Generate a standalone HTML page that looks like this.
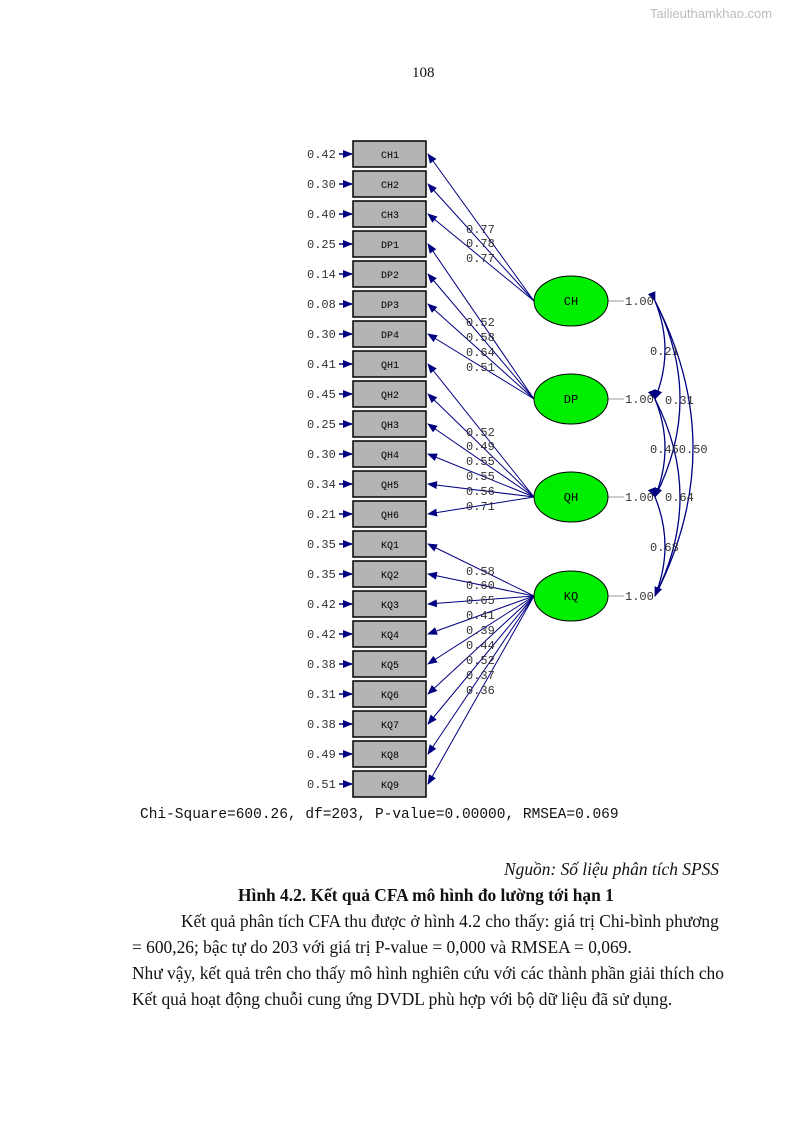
<!DOCTYPE html>
<html><head><meta charset="utf-8"><style>
body{margin:0;background:#fff;width:795px;height:1123px;position:relative;overflow:hidden;font-family:"Liberation Serif",serif;}
.t{position:absolute;font-size:17.4px;color:#111;white-space:nowrap}
</style></head><body>
<div class="t" style="left:650px;top:6px;font-family:'Liberation Sans',sans-serif;font-size:13px;color:#bbb">Tailieuthamkhao.com</div>
<div class="t" style="left:412px;top:65px;font-size:15px">108</div>
<svg width="795" height="1123" style="position:absolute;left:0;top:0">
<defs><marker id="a" markerWidth="10" markerHeight="8" refX="9" refY="4" orient="auto" markerUnits="userSpaceOnUse"><path d="M0,0L10,4L0,8z" fill="#000080"/></marker></defs>
<g font-family="Liberation Mono,monospace" font-size="12" fill="#333">
<g stroke="#000080" stroke-width="1" fill="none" marker-end="url(#a)">
<line x1="534" y1="301" x2="428" y2="154"/><line x1="534" y1="301" x2="428" y2="184"/><line x1="534" y1="301" x2="428" y2="214"/>
<line x1="534" y1="399" x2="428" y2="244"/><line x1="534" y1="399" x2="428" y2="274"/><line x1="534" y1="399" x2="428" y2="304"/><line x1="534" y1="399" x2="428" y2="334"/>
<line x1="534" y1="497" x2="428" y2="364"/><line x1="534" y1="497" x2="428" y2="394"/><line x1="534" y1="497" x2="428" y2="424"/><line x1="534" y1="497" x2="428" y2="454"/><line x1="534" y1="497" x2="428" y2="484"/><line x1="534" y1="497" x2="428" y2="514"/>
<line x1="534" y1="596" x2="428" y2="544"/><line x1="534" y1="596" x2="428" y2="574"/><line x1="534" y1="596" x2="428" y2="604"/><line x1="534" y1="596" x2="428" y2="634"/><line x1="534" y1="596" x2="428" y2="664"/><line x1="534" y1="596" x2="428" y2="694"/><line x1="534" y1="596" x2="428" y2="724"/><line x1="534" y1="596" x2="428" y2="754"/><line x1="534" y1="596" x2="428" y2="784"/>
</g>
<g stroke="#000080" stroke-width="1.3" fill="none">
<path d="M655,301 Q675,350 655,399" marker-start="url(#a)" marker-end="url(#a)"/>
<path d="M655,399 Q675,448 655,497" marker-start="url(#a)" marker-end="url(#a)"/>
<path d="M655,497 Q675,546 655,596" marker-start="url(#a)" marker-end="url(#a)"/>
<path d="M655,301 Q705,399 655,497"/>
<path d="M655,399 Q705,497 655,596"/>
<path d="M655,301 Q731,448 655,596"/>
</g>
<g stroke="#999" stroke-width="1"><line x1="608" y1="301" x2="624" y2="301"/><line x1="608" y1="399" x2="624" y2="399"/><line x1="608" y1="497" x2="624" y2="497"/><line x1="608" y1="596" x2="624" y2="596"/></g>
<g fill="#00ee00" stroke="#000" stroke-width="1">
<ellipse cx="571" cy="301" rx="37" ry="25"/><ellipse cx="571" cy="399" rx="37" ry="25"/><ellipse cx="571" cy="497" rx="37" ry="25"/><ellipse cx="571" cy="596" rx="37" ry="25"/>
</g>
<g fill="#000" font-size="12" text-anchor="middle"><text x="571" y="305">CH</text><text x="571" y="403">DP</text><text x="571" y="501">QH</text><text x="571" y="600">KQ</text></g>
<g><text x="625" y="305">1.00</text><text x="625" y="403">1.00</text><text x="625" y="501">1.00</text><text x="625" y="600">1.00</text>
<text x="650" y="355">0.21</text><text x="665" y="404">0.31</text><text x="650" y="453">0.450.50</text><text x="665" y="501">0.64</text><text x="650" y="551">0.68</text></g>
<g>
<text x="466" y="233">0.77</text><text x="466" y="247">0.78</text><text x="466" y="262">0.77</text>
<text x="466" y="326">0.52</text><text x="466" y="341">0.58</text><text x="466" y="356">0.64</text><text x="466" y="371">0.51</text>
<text x="466" y="436">0.52</text><text x="466" y="450">0.49</text><text x="466" y="465">0.55</text><text x="466" y="480">0.55</text><text x="466" y="495">0.56</text><text x="466" y="510">0.71</text>
<text x="466" y="575">0.58</text><text x="466" y="589">0.60</text><text x="466" y="604">0.65</text><text x="466" y="619">0.41</text><text x="466" y="634">0.39</text><text x="466" y="649">0.44</text><text x="466" y="664">0.52</text><text x="466" y="679">0.37</text><text x="466" y="694">0.36</text>
</g>
<g fill="#b4b4b4" stroke="#000" stroke-width="1.5">
<rect x="353" y="141" width="73" height="26"/><rect x="353" y="171" width="73" height="26"/><rect x="353" y="201" width="73" height="26"/><rect x="353" y="231" width="73" height="26"/><rect x="353" y="261" width="73" height="26"/><rect x="353" y="291" width="73" height="26"/><rect x="353" y="321" width="73" height="26"/><rect x="353" y="351" width="73" height="26"/><rect x="353" y="381" width="73" height="26"/><rect x="353" y="411" width="73" height="26"/><rect x="353" y="441" width="73" height="26"/><rect x="353" y="471" width="73" height="26"/><rect x="353" y="501" width="73" height="26"/><rect x="353" y="531" width="73" height="26"/><rect x="353" y="561" width="73" height="26"/><rect x="353" y="591" width="73" height="26"/><rect x="353" y="621" width="73" height="26"/><rect x="353" y="651" width="73" height="26"/><rect x="353" y="681" width="73" height="26"/><rect x="353" y="711" width="73" height="26"/><rect x="353" y="741" width="73" height="26"/><rect x="353" y="771" width="73" height="26"/>
</g>
<g fill="#000" font-size="10" text-anchor="middle">
<text x="390" y="158">CH1</text><text x="390" y="188">CH2</text><text x="390" y="218">CH3</text><text x="390" y="248">DP1</text><text x="390" y="278">DP2</text><text x="390" y="308">DP3</text><text x="390" y="338">DP4</text><text x="390" y="368">QH1</text><text x="390" y="398">QH2</text><text x="390" y="428">QH3</text><text x="390" y="458">QH4</text><text x="390" y="488">QH5</text><text x="390" y="518">QH6</text><text x="390" y="548">KQ1</text><text x="390" y="578">KQ2</text><text x="390" y="608">KQ3</text><text x="390" y="638">KQ4</text><text x="390" y="668">KQ5</text><text x="390" y="698">KQ6</text><text x="390" y="728">KQ7</text><text x="390" y="758">KQ8</text><text x="390" y="788">KQ9</text>
</g>
<g stroke="#000080" stroke-width="1.5" marker-end="url(#a)">
<line x1="339" y1="154" x2="352" y2="154"/><line x1="339" y1="184" x2="352" y2="184"/><line x1="339" y1="214" x2="352" y2="214"/><line x1="339" y1="244" x2="352" y2="244"/><line x1="339" y1="274" x2="352" y2="274"/><line x1="339" y1="304" x2="352" y2="304"/><line x1="339" y1="334" x2="352" y2="334"/><line x1="339" y1="364" x2="352" y2="364"/><line x1="339" y1="394" x2="352" y2="394"/><line x1="339" y1="424" x2="352" y2="424"/><line x1="339" y1="454" x2="352" y2="454"/><line x1="339" y1="484" x2="352" y2="484"/><line x1="339" y1="514" x2="352" y2="514"/><line x1="339" y1="544" x2="352" y2="544"/><line x1="339" y1="574" x2="352" y2="574"/><line x1="339" y1="604" x2="352" y2="604"/><line x1="339" y1="634" x2="352" y2="634"/><line x1="339" y1="664" x2="352" y2="664"/><line x1="339" y1="694" x2="352" y2="694"/><line x1="339" y1="724" x2="352" y2="724"/><line x1="339" y1="754" x2="352" y2="754"/><line x1="339" y1="784" x2="352" y2="784"/>
</g>
<g>
<text x="307" y="158">0.42</text><text x="307" y="188">0.30</text><text x="307" y="218">0.40</text><text x="307" y="248">0.25</text><text x="307" y="278">0.14</text><text x="307" y="308">0.08</text><text x="307" y="338">0.30</text><text x="307" y="368">0.41</text><text x="307" y="398">0.45</text><text x="307" y="428">0.25</text><text x="307" y="458">0.30</text><text x="307" y="488">0.34</text><text x="307" y="518">0.21</text><text x="307" y="548">0.35</text><text x="307" y="578">0.35</text><text x="307" y="608">0.42</text><text x="307" y="638">0.42</text><text x="307" y="668">0.38</text><text x="307" y="698">0.31</text><text x="307" y="728">0.38</text><text x="307" y="758">0.49</text><text x="307" y="788">0.51</text>
</g>
<text x="140" y="818" font-size="14.5" fill="#111">Chi-Square=600.26, df=203, P-value=0.00000, RMSEA=0.069</text>
</g>
</svg>
<div class="t" style="right:76px;top:859px;font-style:italic">Nguồn: Số liệu phân tích SPSS</div>
<div class="t" style="left:238px;top:885px;font-weight:bold">Hình 4.2. Kết quả CFA mô hình đo lường tới hạn 1</div>
<div class="t" style="left:181px;top:911px">Kết quả phân tích CFA thu được ở hình 4.2 cho thấy: giá trị Chi-bình phương</div>
<div class="t" style="left:132px;top:937px">= 600,26; bậc tự do 203 với giá trị P-value = 0,000 và RMSEA = 0,069.</div>
<div class="t" style="left:132px;top:963px">Như vậy, kết quả trên cho thấy mô hình nghiên cứu với các thành phần giải thích cho</div>
<div class="t" style="left:132px;top:989px">Kết quả hoạt động chuỗi cung ứng DVDL phù hợp với bộ dữ liệu đã sử dụng.</div>
</body></html>
